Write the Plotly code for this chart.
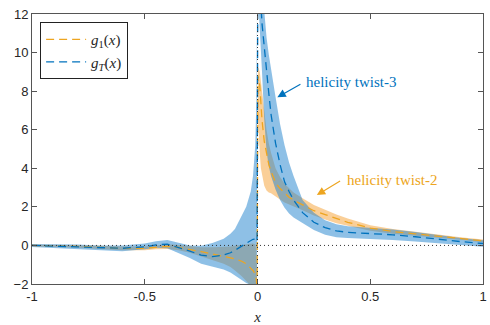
import plotly.graph_objects as go

# ---- sampled curves (x < 0 and x > 0 branches) ----
x_neg = [-1, -0.9, -0.8, -0.7, -0.6, -0.5, -0.45, -0.4, -0.35, -0.3, -0.25,
         -0.2, -0.15, -0.12, -0.1, -0.07, -0.05, -0.03, -0.02, -0.01, -0.005, -0.002]
x_pos = [0.002, 0.005, 0.01, 0.015, 0.02, 0.03, 0.04, 0.05, 0.06, 0.08, 0.1,
         0.12, 0.14, 0.16, 0.2, 0.25, 0.3, 0.35, 0.4, 0.5, 0.6, 0.7, 0.8, 0.9, 1.0]

# g1(x): helicity twist-2
g1_neg = [0, -0.02, -0.05, -0.1, -0.15, -0.15, -0.1, -0.05, -0.1, -0.2, -0.32,
          -0.45, -0.55, -0.64, -0.7, -0.82, -0.95, -1.15, -1.3, -1.5, -1.8, -2.3]
g1_neg_lo = [-0.06, -0.08, -0.12, -0.18, -0.25, -0.25, -0.2, -0.18, -0.25, -0.38, -0.55,
             -0.75, -0.95, -1.12, -1.3, -1.6, -1.85, -2.1, -2.3, -2.5, -2.8, -3.2]
g1_neg_hi = [0.05, 0.04, 0.02, -0.02, -0.06, -0.05, 0.0, 0.06, 0.02, -0.05, -0.1,
             -0.1, -0.08, -0.05, -0.02, 0.03, 0.07, 0.1, 0.1, 0.05, -0.3, -1.0]
g1_pos = [8.8, 8.6, 8.3, 7.3, 6.5, 5.4, 4.7, 4.2, 3.85, 3.25, 2.95,
          2.7, 2.5, 2.35, 2.1, 1.8, 1.6, 1.38, 1.2, 0.9, 0.72, 0.6, 0.48, 0.36, 0.24]
g1_pos_lo = [6.5, 6.2, 4.8, 4.0, 3.6, 3.1, 2.85, 2.75, 2.7, 2.55, 2.38,
             2.22, 2.1, 2.0, 1.82, 1.55, 1.35, 1.15, 1.02, 0.76, 0.6, 0.5, 0.4, 0.29, 0.17]
g1_pos_hi = [9.2, 9.2, 9.0, 8.5, 8.0, 6.9, 6.0, 5.3, 4.8, 4.0, 3.55,
             3.2, 2.95, 2.75, 2.45, 2.1, 1.85, 1.6, 1.4, 1.05, 0.85, 0.7, 0.56, 0.43, 0.31]

# gT(x): helicity twist-3
gT_neg = [0, -0.03, -0.08, -0.12, -0.15, -0.07, 0.03, 0.07, -0.1, -0.3, -0.5,
          -0.58, -0.5, -0.38, -0.25, -0.05, 0.12, 0.25, 0.32, 0.33, 0.25, 0.2]
gT_neg_lo = [-0.08, -0.12, -0.18, -0.25, -0.3, -0.2, -0.12, -0.15, -0.38, -0.65, -0.95,
             -1.1, -1.25, -1.4, -1.55, -1.8, -1.95, -2.05, -2.1, -2.2, -2.3, -2.4]
gT_neg_hi = [0.08, 0.08, 0.05, 0.0, 0.0, 0.1, 0.22, 0.28, 0.15, 0.0, -0.02,
             0.12, 0.35, 0.6, 0.85, 1.5, 2.0, 2.8, 3.6, 5.2, 7.5, 12.5]
gT_pos = [16, 15, 14, 12.5, 11.5, 10.2, 9.1, 7.9, 6.8, 5.3, 4.2,
          3.3, 2.8, 2.35, 1.7, 1.2, 0.92, 0.75, 0.68, 0.62, 0.55, 0.45, 0.32, 0.2, 0.1]
gT_pos_lo = [13, 12, 11, 10.2, 9.0, 6.5, 4.9, 4.1, 3.6, 2.9, 2.35,
             1.95, 1.65, 1.45, 1.15, 0.8, 0.55, 0.42, 0.38, 0.32, 0.28, 0.21, 0.12, 0.02, -0.07]
gT_pos_hi = [20, 18, 16, 14.5, 13.5, 12.0, 10.8, 9.9, 9.1, 7.7, 6.3,
             5.2, 4.3, 3.6, 2.35, 1.7, 1.3, 1.1, 1.0, 0.92, 0.82, 0.69, 0.52, 0.38, 0.27]

x_ticks = [-1, -0.5, 0, 0.5, 1]
x_tick_text = ["-1", "-0.5", "0", "0.5", "1"]
y_ticks = [-2, 0, 2, 4, 6, 8, 10, 12]

ORANGE = "#EDA520"
BLUE = "#0072BD"
ORANGE_FILL = "rgba(246,160,50,0.5)"
BLUE_FILL = "rgba(30,130,205,0.5)"
SERIF = "Liberation Serif, DejaVu Serif, serif"

fig = go.Figure()


def band(xs, lo, hi, color):
    fig.add_trace(go.Scatter(
        x=list(xs) + list(xs)[::-1], y=list(hi) + list(lo)[::-1],
        fill="toself", fillcolor=color, line=dict(width=0),
        mode="lines", hoverinfo="skip", showlegend=False))


band(x_neg, g1_neg_lo, g1_neg_hi, ORANGE_FILL)
band(x_pos, g1_pos_lo, g1_pos_hi, ORANGE_FILL)
band(x_neg, gT_neg_lo, gT_neg_hi, BLUE_FILL)
band(x_pos, gT_pos_lo, gT_pos_hi, BLUE_FILL)

fig.add_trace(go.Scatter(
    x=x_neg + x_pos, y=g1_neg + g1_pos, mode="lines",
    line=dict(color=ORANGE, width=1.3, dash="8px,5px"),
    name="<i>g</i><sub>1</sub>(<i>x</i>)"))
fig.add_trace(go.Scatter(
    x=x_neg + x_pos, y=gT_neg + gT_pos, mode="lines",
    line=dict(color=BLUE, width=1.3, dash="8px,5px"),
    name="<i>g</i><sub><i>T</i></sub>(<i>x</i>)"))

# reference lines through the origin
fig.add_shape(type="line", x0=-1, x1=1, y0=0, y1=0, xref="x", yref="y",
              line=dict(color="#333333", width=1, dash="1px,3px"), layer="above")
fig.add_shape(type="line", x0=0, x1=0, y0=-2, y1=12, xref="x", yref="y",
              line=dict(color="#333333", width=1, dash="1px,3px"), layer="above")

# labelled arrows
fig.add_annotation(x=0.088, y=7.68, ax=0.197, ay=8.4, axref="x", ayref="y",
                   xref="x", yref="y", text="", showarrow=True,
                   arrowhead=2, arrowsize=1.4, arrowwidth=1.2, arrowcolor=BLUE)
fig.add_annotation(x=0.205, y=8.49, xref="x", yref="y", text="helicity twist-3",
                   showarrow=False, xanchor="left",
                   font=dict(family=SERIF, size=15, color=BLUE))
fig.add_annotation(x=0.263, y=2.61, ax=0.373, ay=3.39, axref="x", ayref="y",
                   xref="x", yref="y", text="", showarrow=True,
                   arrowhead=2, arrowsize=1.4, arrowwidth=1.2, arrowcolor=ORANGE)
fig.add_annotation(x=0.39, y=3.39, xref="x", yref="y", text="helicity twist-2",
                   showarrow=False, xanchor="left",
                   font=dict(family=SERIF, size=15, color=ORANGE))

axis_common = dict(showline=True, linecolor="#555555", linewidth=1, mirror="ticks",
                   ticks="inside", ticklen=5, tickcolor="#555555", showgrid=False,
                   zeroline=False, ticklabeloverflow="allow",
                   tickfont=dict(family="Liberation Sans, Arial, sans-serif",
                                 size=13, color="#262626"))

fig.update_xaxes(range=[-1, 1], tickvals=x_ticks, ticktext=x_tick_text,
                 title=dict(text="<i>x</i>", font=dict(family=SERIF, size=15, color="#262626"),
                            standoff=8),
                 **axis_common)
fig.update_yaxes(range=[-2, 12], tickvals=y_ticks, **axis_common)

fig.update_layout(
    width=490, height=325,
    margin=dict(l=32, r=3, t=14, b=41),
    paper_bgcolor="white", plot_bgcolor="white",
    legend=dict(x=0.018, y=0.97, xanchor="left", yanchor="top",
                bordercolor="#222222", borderwidth=1, bgcolor="white",
                font=dict(family=SERIF, size=15, color="#262626"),
                itemwidth=40, tracegroupgap=0),
)

fig.write_html("out.html")
